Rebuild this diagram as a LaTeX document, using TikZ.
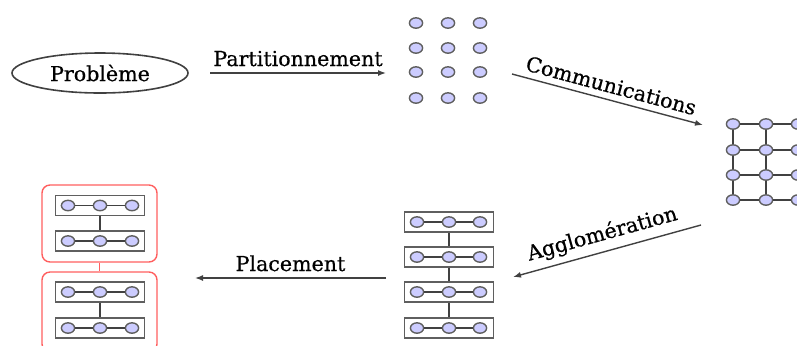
\documentclass[tikz,border=0pt]{standalone}
\usepackage{fontspec}
\setmainfont[FakeBold=0.6]{DejaVu Serif}
\usetikzlibrary{arrows.meta,shapes.geometric}
\definecolor{dotfill}{RGB}{204,204,255}
\definecolor{dotline}{RGB}{95,95,95}
\definecolor{linkc}{RGB}{65,65,65}
\definecolor{redbox}{RGB}{255,95,95}
\tikzset{
  x=0.5pt,y=-0.5pt,
  pdot/.style={ellipse,draw=dotline,fill=dotfill,line width=0.7pt,minimum width=6.6pt,minimum height=5.2pt,inner sep=0pt},
  link/.style={draw=linkc,line width=0.8pt},
  rowbox/.style={rectangle,draw=dotline,line width=0.9pt,minimum width=44.5pt,minimum height=10pt,inner sep=0pt},
  redframe/.style={rectangle,rounded corners=4pt,draw=redbox,line width=0.7pt,minimum width=57.5pt,inner sep=0pt},
  flow/.style={draw=linkc,line width=0.7pt,-{Latex[length=4pt,width=3pt]}},
  lbl/.style={font=\fontsize{10.3}{12}\selectfont,inner sep=2pt}
}
\begin{document}
\begin{tikzpicture}
\useasboundingbox (0,0) rectangle (797,345);
\clip (0,0) rectangle (797,345);
% Problem
\node[ellipse,draw=black!75,line width=0.8pt,minimum width=88pt,minimum height=20pt,inner sep=0pt,lbl] (prob) at (100,73) {Problème};
% Partitionnement arrow
\coordinate (pa) at (210,73);
\coordinate (pb) at (386,73);
\draw[flow] (pa) -- node[lbl,above,yshift=1pt] (plbl) {Partitionnement} (pb);
% dots grid 3x4
\foreach \c/\x in {1/416,2/448,3/480}{
  \foreach \r/\y in {1/23,2/48,3/72,4/98}{
    \node[pdot] (d\r\c) at (\x,\y) {};
  }
}
% Communications arrow
\coordinate (ca) at (512,74);
\coordinate (cb) at (703,125);
\draw[flow] (ca) -- node[lbl,sloped,above,yshift=1pt] (clbl) {Communications} (cb);
% grid
\foreach \c/\x in {1/733,2/766,3/798}{
  \foreach \r/\y in {1/124,2/150,3/175,4/200}{
    \node[pdot] (g\r\c) at (\x,\y) {};
  }
}
\foreach \r in {1,2,3,4}{
  \draw[link] (g\r1) -- (g\r2) -- (g\r3);
}
\foreach \c in {1,2,3}{
  \draw[link] (g1\c) -- (g2\c) -- (g3\c) -- (g4\c);
}
% Agglomeration arrow
\coordinate (aa) at (701,225);
\coordinate (ab) at (513,277);
\draw[flow] (aa) -- node[lbl,sloped,above,yshift=1pt] (albl) {Agglomération} (ab);
% middle column
\foreach \i/\y in {1/222,2/257,3/292,4/328}{
  \node[rowbox] (m\i) at (449,\y) {};
  \node[pdot] (m\i a) at (417,\y) {};
  \node[pdot] (m\i b) at (449,\y) {};
  \node[pdot] (m\i c) at (480,\y) {};
  \draw[link] (m\i a) -- (m\i b) -- (m\i c);
}
\draw[link] (m1.south) -- (m2.north);
\draw[link] (m2.south) -- (m3.north);
\draw[link] (m3.south) -- (m4.north);
% Placement arrow
\coordinate (la) at (386,278);
\coordinate (lb) at (195,278);
\draw[flow] (la) -- node[lbl,above,yshift=1pt] (llbl) {Placement} (lb);
% left column
\node[redframe,minimum height=38.5pt] (rb1) at (99.5,223.5) {};
\node[redframe,minimum height=40pt] (rb2) at (99.5,312) {};
\draw[draw=redbox,line width=0.7pt] (rb1.south) -- (rb2.north);
\foreach \i/\y in {1/205.5,2/241,3/292,4/328}{
  \node[rowbox] (l\i) at (100,\y) {};
  \node[pdot] (l\i a) at (68,\y) {};
  \node[pdot] (l\i b) at (100,\y) {};
  \node[pdot] (l\i c) at (132,\y) {};
  \draw[link] (l\i a) -- (l\i b) -- (l\i c);
}
\draw[link] (l1.south) -- (l2.north);
\draw[link] (l3.south) -- (l4.north);
\end{tikzpicture}
\end{document}
